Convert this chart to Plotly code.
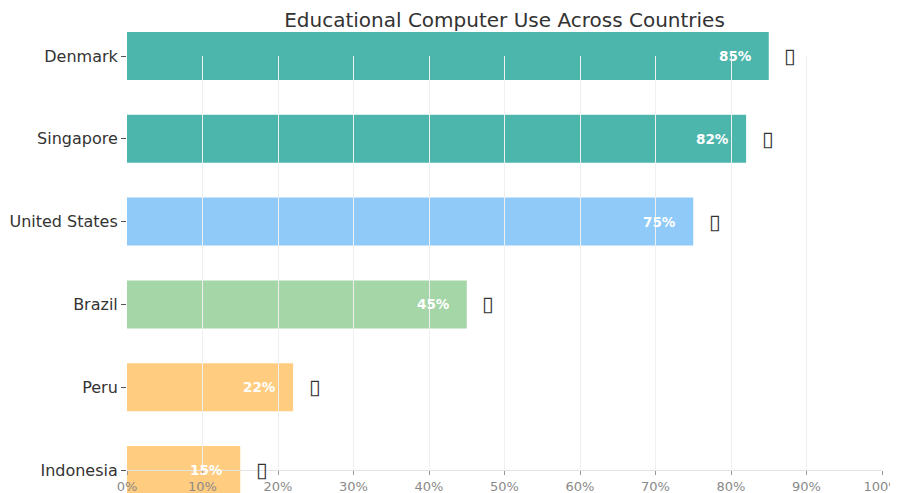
import plotly.graph_objects as go

# ---- data ----
countries = ["Indonesia", "Peru", "Brazil", "United States", "Singapore", "Denmark"]
usage = [15, 22, 45, 75, 82, 85]
bar_colors = ["#FFCC80", "#FFCC80", "#A5D6A7", "#90CAF9", "#4DB6AC", "#4DB6AC"]
icons = ["▯", "▯", "▯", "▯", "▯", "▯"]
x_ticks = [0, 10, 20, 30, 40, 50, 60, 70, 80, 90, 100]
x_tick_labels = ["0%", "10%", "20%", "30%", "40%", "50%", "60%", "70%", "80%", "90%", "100%"]
title_text = "Educational Computer Use Across Countries"

# page body has an 8px margin; figure is placed at (8, 8)
OFF = 8
W, H = 893, 485
ML, MR, MT, MB = 127 - OFF, 19, 32 - OFF, 0
plot_h = H - MT - MB
# target pixel rows in the window
DEN_Y, IND_Y, BOT_Y, TOP_Y = 56, 470, 493, 32

FONT = "DejaVu Sans"

fig = go.Figure()

# bars (subplot A, full height so bars are not clipped)
fig.add_trace(go.Bar(
    x=usage, y=countries, orientation="h",
    marker=dict(color=bar_colors, line=dict(width=0)),
    width=0.58, showlegend=False, hoverinfo="x+y",
    xaxis="x", yaxis="y",
))

# helper subplot B carrying grid + x axis (drawn above bars)
fig.add_trace(go.Scatter(x=[None], y=[None], xaxis="x2", yaxis="y2",
                         showlegend=False, hoverinfo="skip"))

# percentage labels inside bars
for c, v in zip(countries, usage):
    fig.add_annotation(x=v, y=c, xref="x", yref="y", text=f"{v}%",
                       showarrow=False, xanchor="right", xshift=-15,
                       font=dict(color="white", size=13.5, family=FONT, weight="bold"))
# icon glyphs after bars
for c, v, ic in zip(countries, usage, icons):
    fig.add_annotation(x=v + 3, y=c, xref="x", yref="y", text=ic,
                       showarrow=False, xanchor="center", xshift=-1,
                       font=dict(color="#333333", size=21, family=FONT))

# y range for bars so Denmark centre sits at DEN_Y and Indonesia centre at IND_Y
px_per_cat = (IND_Y - DEN_Y) / 5
y_lo = -(BOT_Y - IND_Y) / px_per_cat
y_hi = 5 + (DEN_Y - TOP_Y) / px_per_cat

fig.update_layout(
    width=W, height=H,
    margin=dict(l=ML, r=MR, t=MT, b=MB),
    paper_bgcolor="white", plot_bgcolor="rgba(0,0,0,0)",
    font=dict(family=FONT, color="#333333"),
    title=dict(text=title_text, x=0.5, xref="paper", y=1 - (20 - OFF) / H, yref="container",
               yanchor="middle", xanchor="center",
               font=dict(size=20, color="#333333", family=FONT)),
    xaxis=dict(domain=[0, 1], range=[0, 100], visible=False, anchor="y"),
    yaxis=dict(domain=[0, 1], range=[y_lo, y_hi], type="category",
               categoryorder="array", categoryarray=countries,
               showgrid=False, zeroline=False, showline=False,
               ticks="outside", ticklen=5, tickcolor="#555555",
               tickfont=dict(size=16, color="#333333", family=FONT), anchor="x"),
    xaxis2=dict(domain=[0, 1], range=[0, 100], anchor="y2",
                tickvals=x_ticks, ticktext=x_tick_labels,
                ticklabeloverflow="allow",
                showgrid=True, gridcolor="#efefef", gridwidth=1.2,
                zeroline=False, showline=True, linecolor="#e3e3e3", linewidth=1,
                ticks="outside", ticklen=4, tickcolor="#999999",
                tickfont=dict(size=13, color="#8a8a8a", family=FONT)),
    yaxis2=dict(domain=[(BOT_Y - IND_Y) / plot_h, (BOT_Y - DEN_Y) / plot_h],
                range=[0, 5], anchor="x2", visible=True, showgrid=False,
                zeroline=False, showline=False, showticklabels=False, ticks=""),
)

fig.write_html("out.html")
